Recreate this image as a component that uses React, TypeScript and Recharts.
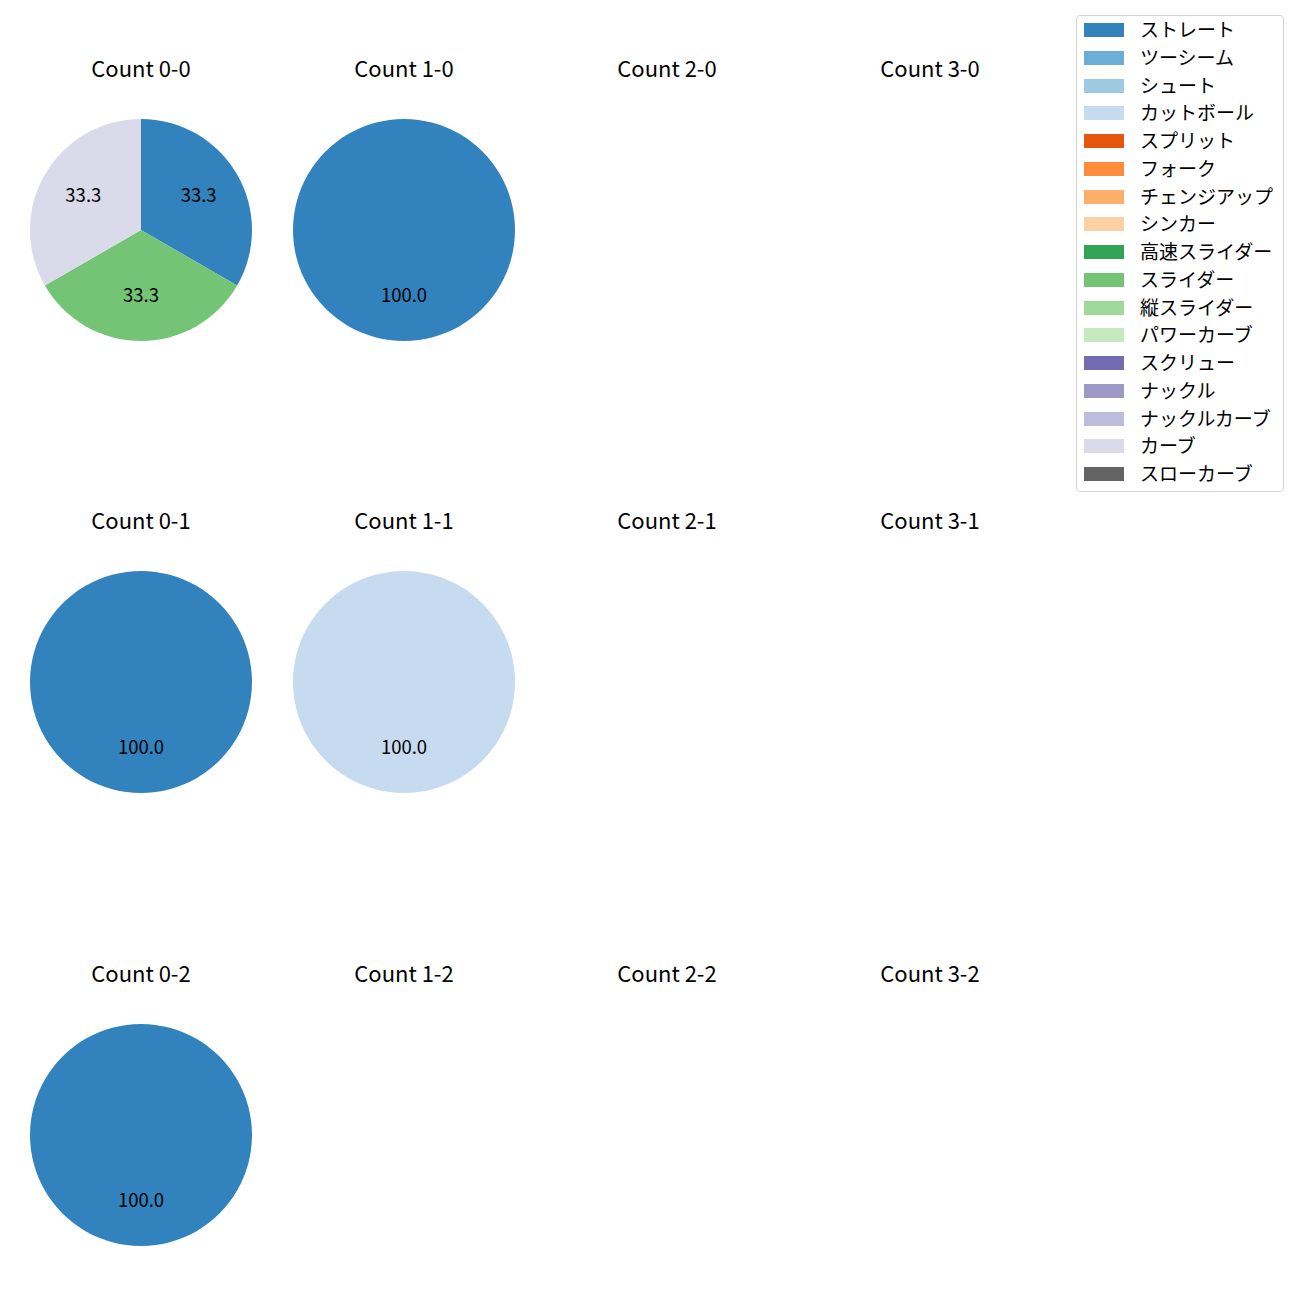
import React from 'react';
import { PieChart, Pie, Cell } from 'recharts';

const pitchTypes = [
  'ストレート', 'ツーシーム', 'シュート', 'カットボール', 'スプリット', 'フォーク',
  'チェンジアップ', 'シンカー', '高速スライダー', 'スライダー', '縦スライダー',
  'パワーカーブ', 'スクリュー', 'ナックル', 'ナックルカーブ', 'カーブ', 'スローカーブ',
];
const pitchColors = [
  '#3182bd', '#6baed6', '#9ecae1', '#c6dbef', '#e6550d', '#fd8d3c',
  '#fdae6b', '#fdd0a2', '#31a354', '#74c476', '#a1d99b',
  '#c7e9c0', '#756bb1', '#9e9ac8', '#bcbddc', '#dadaeb', '#636363',
];

// pitch counts per ball-strike count, in pitchTypes order
const count00 = [1, 0, 0, 0, 0, 0, 0, 0, 0, 1, 0, 0, 0, 0, 0, 1, 0];
const count10 = [1, 0, 0, 0, 0, 0, 0, 0, 0, 0, 0, 0, 0, 0, 0, 0, 0];
const count01 = [1, 0, 0, 0, 0, 0, 0, 0, 0, 0, 0, 0, 0, 0, 0, 0, 0];
const count11 = [0, 0, 0, 1, 0, 0, 0, 0, 0, 0, 0, 0, 0, 0, 0, 0, 0];
const count02 = [1, 0, 0, 0, 0, 0, 0, 0, 0, 0, 0, 0, 0, 0, 0, 0, 0];
const empty = new Array(17).fill(0);

const panels = [
  { title: 'Count 0-0', values: count00, col: 0, row: 0 },
  { title: 'Count 1-0', values: count10, col: 1, row: 0 },
  { title: 'Count 2-0', values: empty, col: 2, row: 0 },
  { title: 'Count 3-0', values: empty, col: 3, row: 0 },
  { title: 'Count 0-1', values: count01, col: 0, row: 1 },
  { title: 'Count 1-1', values: count11, col: 1, row: 1 },
  { title: 'Count 2-1', values: empty, col: 2, row: 1 },
  { title: 'Count 3-1', values: empty, col: 3, row: 1 },
  { title: 'Count 0-2', values: count02, col: 0, row: 2 },
  { title: 'Count 1-2', values: empty, col: 1, row: 2 },
  { title: 'Count 2-2', values: empty, col: 2, row: 2 },
  { title: 'Count 3-2', values: empty, col: 3, row: 2 },
];

const FONT = '"Noto Sans CJK JP", "Noto Sans", sans-serif';
const colX = [141, 404, 667, 930];
const rowY = [230, 682, 1135];
const R = 111;
const SIZE = 240;
const RAD = Math.PI / 180;

const renderLabel = (props: any) => {
  const { cx, cy, midAngle, outerRadius, percent } = props;
  const r = outerRadius * 0.6;
  const x = cx + r * Math.cos(-midAngle * RAD);
  const y = cy + r * Math.sin(-midAngle * RAD) - 3;
  return (
    <text x={x} y={y} fill="#000" fontSize={18.5} fontFamily={FONT} textAnchor="middle" dominantBaseline="central">
      {(percent * 100).toFixed(1)}
    </text>
  );
};

const PiePanel = ({ title, values, col, row }: any) => {
  const data = pitchTypes
    .map((name, i) => ({ name, value: values[i], color: pitchColors[i] }))
    .filter((d) => d.value > 0);
  const cx = colX[col];
  const cy = rowY[row];
  return (
    <>
      <div
        style={{
          position: 'absolute', left: cx - 100, top: cy - 161 - 17, width: 200, textAlign: 'center',
          fontSize: 22, fontFamily: FONT, color: '#000', lineHeight: '30px',
        }}
      >
        {title}
      </div>
      {data.length > 0 && (
        <div style={{ position: 'absolute', left: cx - SIZE / 2, top: cy - SIZE / 2 }}>
          <PieChart width={SIZE} height={SIZE} margin={{ top: 0, right: 0, bottom: 0, left: 0 }}>
            <Pie
              data={data}
              dataKey="value"
              cx="50%"
              cy="50%"
              outerRadius={R}
              startAngle={90}
              endAngle={-270}
              stroke="none"
              label={renderLabel}
              labelLine={false}
              isAnimationActive={false}
            >
              {data.map((d) => (
                <Cell key={d.name} fill={d.color} />
              ))}
            </Pie>
          </PieChart>
        </div>
      )}
    </>
  );
};

const Legend = () => (
  <div
    style={{
      position: 'absolute', left: 1076, top: 15, width: 208, height: 477,
      border: '1px solid #d5d5d5', borderRadius: 4, background: '#fff', boxSizing: 'border-box',
    }}
  >
    {pitchTypes.map((name, i) => (
      <div key={name} style={{ position: 'absolute', left: 0, top: 14 - 15 + i * 27.75, height: 28, width: 200 }}>
        <div style={{ position: 'absolute', left: 7, top: 8, width: 40, height: 14, background: pitchColors[i] }} />
        <div
          style={{
            position: 'absolute', left: 63, top: 0, fontSize: 19, lineHeight: '28px',
            fontFamily: FONT, color: '#000', whiteSpace: 'nowrap',
          }}
        >
          {name}
        </div>
      </div>
    ))}
  </div>
);

export default function App() {
  return (
    <div style={{ position: 'absolute', left: 0, top: 0, width: 1300, height: 1300, background: '#fff' }}>
      {panels.map((p) => (
        <PiePanel key={p.title} {...p} />
      ))}
      <Legend />
    </div>
  );
}
